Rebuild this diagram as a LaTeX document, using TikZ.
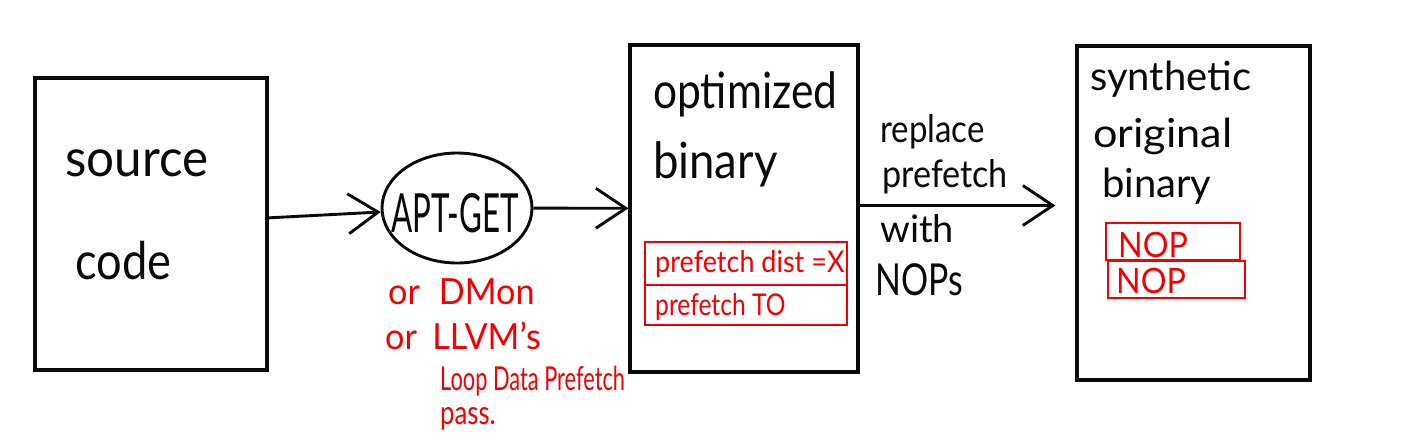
\documentclass[tikz,border=0pt]{standalone}
\usepackage{fontspec}
\setmainfont{Lato}
\usetikzlibrary{shapes.geometric,arrows.meta}
\newcommand{\hwt}[3]{{\fontsize{#1}{#1}\selectfont\scalebox{#2}[1]{#3}}}
\definecolor{pen}{RGB}{10,10,10}
\definecolor{redpen}{RGB}{245,0,0}
\tikzset{
  blackbox/.style={draw=pen, line width=3.1pt, rectangle, inner sep=0pt},
  redbox/.style={draw=redpen, line width=2.6pt, rectangle, inner sep=0pt},
  txt/.style={inner sep=0pt, anchor=base west, text=pen},
  rtxt/.style={inner sep=0pt, anchor=base west, text=redpen},
  conn/.style={draw=pen, line width=2.9pt, -{Straight Barb[length=30pt,width=40pt,line width=2.9pt]}},
}
\begin{document}
\begin{tikzpicture}[x=1pt,y=-1pt]
\useasboundingbox[fill=white] (0,0) rectangle (1408,445);
% boxes
\node[blackbox, minimum width=232pt, minimum height=292pt] (src) at (151,224) {};
\node[blackbox, minimum width=228pt, minimum height=327pt] (opt) at (744,208.5) {};
\node[blackbox, minimum width=233pt, minimum height=334pt] (syn) at (1193.5,213) {};
\node[draw=pen, line width=2.9pt, ellipse, minimum width=150pt, minimum height=110pt, inner sep=0pt] (apt) at (457,208) {};
% red boxes
\node[redbox, minimum width=202pt, minimum height=43pt] (pf1) at (746,263.5) {};
\node[redbox, minimum width=202pt, minimum height=40pt] (pf2) at (746,305) {};
\node[redbox, minimum width=134pt, minimum height=37pt] (nop1) at (1173,241.5) {};
\node[redbox, minimum width=137pt, minimum height=37pt] (nop2) at (1176.5,279.5) {};
% texts
\node[txt] (t-source) at (65,176) {\hwt{52}{0.95}{source}};
\node[txt] (t-code) at (75,279) {\hwt{52}{0.87}{code}};
\node[inner sep=0pt, anchor=base, text=pen] (t-apt) at (455,232) {\hwt{54}{0.58}{APT-GET}};
\node[txt] (t-opt1) at (653,108) {\hwt{50}{0.85}{optimized}};
\node[txt] (t-opt2) at (653,178) {\hwt{50}{0.91}{binary}};
\node[txt] (t-rep1) at (880,142) {\hwt{38}{0.87}{replace}};
\node[txt] (t-rep2) at (882,187) {\hwt{38}{0.9}{prefetch}};
\node[txt] (t-rep3) at (880,242) {\hwt{38}{1}{with}};
\node[txt] (t-rep4) at (875,295) {\hwt{44}{0.77}{NOPs}};
\node[txt] (t-syn1) at (1090,90) {\hwt{40}{1}{synthetic}};
\node[txt] (t-syn2) at (1093,147) {\hwt{40}{1.08}{original}};
\node[txt] (t-syn3) at (1102,197) {\hwt{40}{1}{binary}};
\node[rtxt] (t-nop1) at (1118,257) {\hwt{35}{0.92}{NOP}};
\node[rtxt] (t-nop2) at (1116,293) {\hwt{35}{0.92}{NOP}};
\node[rtxt] (t-pf1) at (655,272) {\hwt{30}{0.9}{prefetch dist =X}};
\node[rtxt] (t-pf2) at (655,315) {\hwt{30}{0.82}{prefetch TO}};
\node[rtxt] (t-or1) at (388,304) {\hwt{36}{0.95}{or\hspace{0.55em}DMon}};
\node[rtxt] (t-or2) at (385,349) {\hwt{36}{0.95}{or\hspace{0.45em}LLVM's}};
\node[rtxt] (t-or3) at (440,390) {\hwt{33}{0.66}{Loop Data Prefetch}};
\node[rtxt] (t-or4) at (440,424) {\hwt{33}{0.78}{pass.}};
% connectors
\draw[conn] (src) -- (apt);
\draw[conn] (apt) -- (opt);
\draw[conn, shorten >=20pt] ([yshift=3pt]opt.east) -- ([yshift=3pt]opt.east -| syn.west);
\end{tikzpicture}
\end{document}
